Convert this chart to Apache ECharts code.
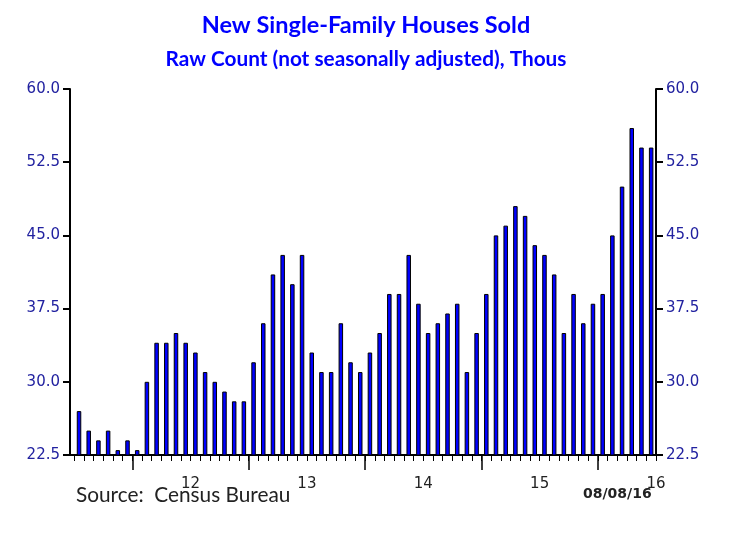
<!DOCTYPE html>
<html>
<head>
<meta charset="utf-8">
<script src="https://cdn.jsdelivr.net/npm/echarts@6/dist/echarts.min.js"></script>
<style>html,body{margin:0;padding:0;background:#fff}#c{width:732px;height:534px}</style>
</head>
<body>
<div id="c"></div>
<script>
// Months Jul 2011 .. Jun 2016
const months = [
 'Jul-11','Aug-11','Sep-11','Oct-11','Nov-11','Dec-11',
 'Jan-12','Feb-12','Mar-12','Apr-12','May-12','Jun-12','Jul-12','Aug-12','Sep-12','Oct-12','Nov-12','Dec-12',
 'Jan-13','Feb-13','Mar-13','Apr-13','May-13','Jun-13','Jul-13','Aug-13','Sep-13','Oct-13','Nov-13','Dec-13',
 'Jan-14','Feb-14','Mar-14','Apr-14','May-14','Jun-14','Jul-14','Aug-14','Sep-14','Oct-14','Nov-14','Dec-14',
 'Jan-15','Feb-15','Mar-15','Apr-15','May-15','Jun-15','Jul-15','Aug-15','Sep-15','Oct-15','Nov-15','Dec-15',
 'Jan-16','Feb-16','Mar-16','Apr-16','May-16','Jun-16'
];
const sold = [
 27,25,24,25,23,24,
 23,30,34,34,35,34,33,31,30,29,28,28,
 32,36,41,43,40,43,33,31,31,36,32,31,
 33,35,39,39,43,38,35,36,37,38,31,35,
 39,45,46,48,47,44,43,41,35,39,36,38,
 39,45,50,56,54,54
];
const yearLabels = ['12','13','14','15','16'];
const yearLabelPos = [11.5, 23.5, 35.5, 47.5, 59.5];   // mid-year (July 1)
const yearBoundaryPos = [5.5, 17.5, 29.5, 41.5, 53.5]; // Jan 1
const yTicks = [22.5, 30.0, 37.5, 45.0, 52.5, 60.0];

const monthBoundaryPos = months.map((m, i) => i - 0.5).concat([months.length - 0.5]);

const chart = echarts.init(document.getElementById('c'), null, {renderer: 'canvas'});
const yLabelColor = '#2222a0';
const yAxisBase = {
  type: 'value', min: yTicks[0], max: yTicks[yTicks.length - 1], interval: 7.5,
  axisLine: {show: true, onZero: false, lineStyle: {color: '#000', width: 2}},
  axisTick: {show: true, inside: false, length: 7, lineStyle: {color: '#000', width: 2}},
  axisLabel: {color: yLabelColor, fontSize: 15, fontFamily: 'DejaVu Sans', margin: 10,
    formatter: v => v.toFixed(1)},
  splitLine: {show: false}
};
const xMin = -0.93, xMax = 59.5;
chart.setOption({
  animation: false,
  backgroundColor: '#fff',
  title: [
    {text: 'New Single-Family Houses Sold', left: 'center', top: 8,
     textStyle: {color: '#0000FF', fontFamily: 'Lato', fontWeight: 'bold', fontSize: 23.5}},
    {text: 'Raw Count (not seasonally adjusted), Thous', left: 'center', top: 44,
     textStyle: {color: '#0000FF', fontFamily: 'Lato', fontWeight: 'bold', fontSize: 20.8}}
  ],
  grid: {left: 70, right: 76, top: 89, bottom: 79, containLabel: false},
  xAxis: [
    {type: 'value', min: xMin, max: xMax, position: 'bottom',
     axisLine: {show: true, onZero: false, lineStyle: {color: '#000', width: 2}},
     axisTick: {show: true, length: 6, customValues: monthBoundaryPos, lineStyle: {color: '#000', width: 1}},
     axisLabel: {show: true, customValues: yearLabelPos, color: '#222', fontSize: 15, fontFamily: 'DejaVu Sans', margin: 22,
       formatter: v => { const k = yearLabelPos.indexOf(v); return k >= 0 ? yearLabels[k] : ''; }},
     splitLine: {show: false}},
    {type: 'value', min: xMin, max: xMax, position: 'bottom',
     axisLine: {show: false, onZero: false},
     axisTick: {show: true, length: 15, customValues: yearBoundaryPos, lineStyle: {color: '#000', width: 1.5}},
     axisLabel: {show: false}, splitLine: {show: false}}
  ],
  yAxis: [
    Object.assign({}, yAxisBase, {position: 'left'}),
    Object.assign({}, yAxisBase, {position: 'right'})
  ],
  series: [{
    type: 'bar', xAxisIndex: 0, yAxisIndex: 0,
    data: sold.map((v, i) => [i, v]),
    barWidth: 4.5,
    itemStyle: {color: '#0000FF', borderColor: '#000', borderWidth: 1}
  }],
  graphic: [
    {type: 'text', left: 76, top: 485,
     style: {text: 'Source:  Census Bureau', fill: '#222', font: '20.8px Lato'}},
    {type: 'text', left: 583, top: 487,
     style: {text: '08/08/16', fill: '#222', font: 'bold 14px "DejaVu Sans"'}}
  ]
});
</script>
</body>
</html>
